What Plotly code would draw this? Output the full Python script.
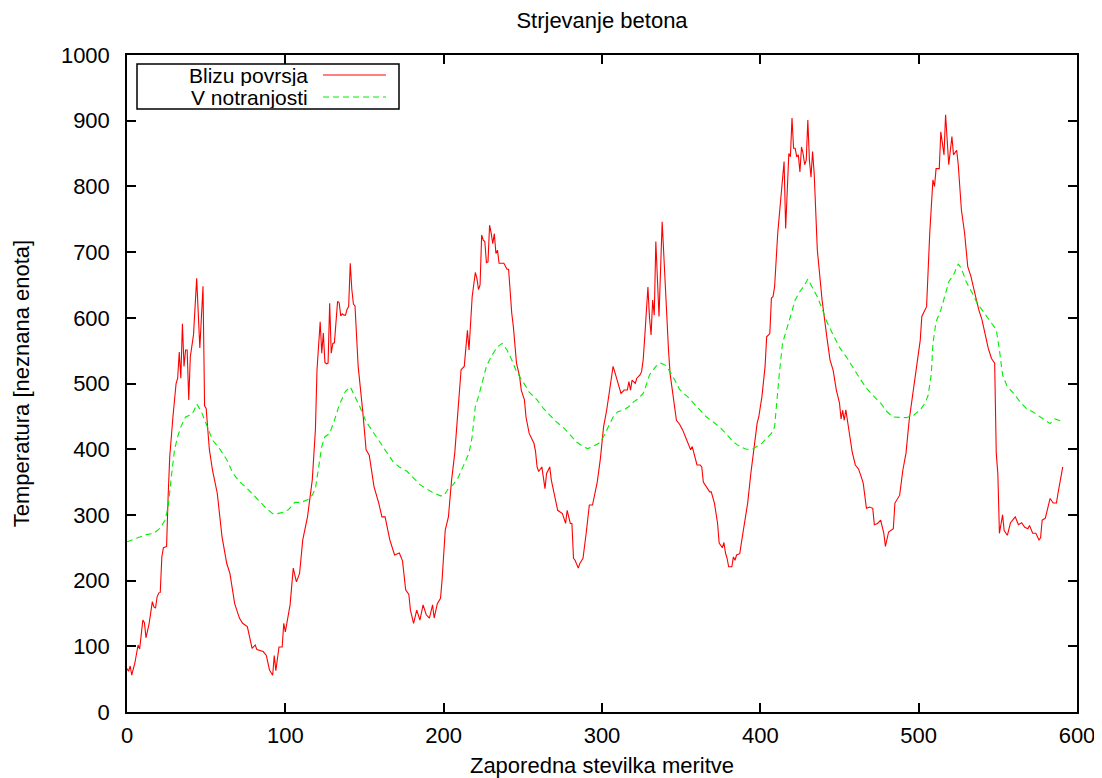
import plotly.graph_objects as go

title_text = "Strjevanje betona"
x_title = "Zaporedna stevilka meritve"
y_title = "Temperatura [neznana enota]"
series_names = ["Blizu povrsja", "V notranjosti"]

# Red series: "Blizu povrsja" (measurement index, value)
red_x = [0, 1, 2, 3, 5, 7, 8, 10, 11, 12, 14, 16, 17, 18, 19, 20, 21, 22, 23, 25,
         26, 27, 29, 31, 32, 33, 34, 35, 36, 37, 38, 39, 40, 42, 44, 46, 48, 49, 50, 52,
         54, 57, 60, 63, 65, 68, 71, 73, 76, 79, 81, 82, 86, 88, 90, 92, 93, 94, 96, 98,
         99, 100, 103, 105, 107, 109, 111, 114, 117, 119, 120, 122, 123, 124, 125, 126, 127, 128, 129, 130,
         131, 132, 133, 134, 135, 136, 137, 138, 139, 140, 141, 142, 143, 144, 146, 149, 151, 153, 156, 159,
         161, 163, 166, 169, 172, 174, 176, 178, 179, 181, 183, 185, 187, 189, 191, 193, 194, 196, 198, 199,
         201, 203, 205, 207, 209, 211, 213, 214, 215, 216, 217, 218, 220, 221, 222, 223, 224, 225, 226, 227,
         228, 229, 230, 231, 232, 233, 234, 235, 236, 238, 240, 241, 243, 244, 246, 248, 249, 251, 252, 254,
         257, 258, 259, 260, 262, 264, 265, 267, 268, 270, 272, 275, 277, 278, 280, 281, 282, 283, 285, 286,
         288, 290, 292, 294, 296, 297, 299, 300, 301, 303, 305, 307, 308, 310, 312, 314, 316, 317, 318, 319,
         321, 322, 324, 325, 326, 327, 329, 330, 331, 332, 333, 334, 336, 338, 340, 342, 343, 345, 347, 349,
         351, 353, 356, 357, 358, 360, 362, 363, 364, 366, 368, 369, 371, 373, 374, 376, 377, 378, 379, 380,
         382, 383, 384, 385, 387, 388, 390, 392, 394, 397, 398, 399, 401, 403, 404, 406, 407, 408, 409, 411,
         413, 415, 416, 417, 418, 419, 420, 421, 422, 423, 424, 425, 426, 427, 428, 429, 430, 431, 432, 433,
         434, 436, 439, 442, 444, 446, 448, 450, 451, 452, 453, 454, 456, 458, 460, 462, 464, 465, 467, 469,
         471, 472, 474, 476, 478, 479, 481, 484, 485, 488, 490, 492, 494, 497, 499, 501, 502, 505, 506, 507,
         509, 510, 511, 513, 514, 516, 517, 519, 521, 522, 524, 525, 527, 529, 531, 533, 536, 538, 540, 542,
         544, 546, 548, 549, 550, 551, 553, 554, 556, 558, 561, 563, 565, 567, 569, 570, 572, 574, 576, 577,
         578, 580, 583, 585, 587, 588, 589, 591]
red_y = [66, 62, 70, 56, 75, 102, 96, 140, 136, 113, 135, 168, 160, 158, 175, 181, 182, 236, 250, 252,
         330, 389, 449, 500, 508, 548, 508, 591, 526, 551, 551, 475, 541, 574, 660, 554, 648, 466, 462, 400,
         368, 333, 267, 226, 211, 165, 143, 135, 130, 97, 102, 95, 92, 86, 64, 56, 86, 63, 99, 99,
         135, 122, 163, 219, 198, 211, 262, 297, 353, 430, 521, 594, 546, 577, 532, 530, 531, 622, 546, 561,
         562, 592, 625, 623, 603, 606, 604, 604, 613, 617, 683, 643, 621, 618, 526, 455, 399, 391, 343, 318,
         297, 297, 262, 239, 242, 230, 186, 179, 155, 135, 155, 140, 163, 148, 143, 163, 143, 165, 173, 201,
         277, 297, 353, 394, 455, 521, 526, 551, 581, 551, 597, 632, 669, 660, 643, 650, 726, 718, 716, 684,
         685, 741, 729, 713, 728, 698, 703, 683, 683, 683, 674, 674, 607, 587, 531, 510, 490, 475, 449, 424,
         409, 397, 373, 366, 373, 340, 363, 373, 353, 328, 307, 302, 287, 307, 287, 287, 234, 231, 219, 226,
         234, 272, 315, 315, 338, 350, 386, 414, 434, 460, 495, 526, 518, 503, 485, 490, 490, 503, 490, 505,
         500, 508, 513, 518, 536, 571, 647, 600, 574, 627, 604, 716, 602, 746, 637, 551, 515, 475, 444, 438,
         429, 417, 399, 404, 395, 376, 376, 373, 350, 343, 335, 335, 318, 287, 257, 250, 258, 242, 234, 221,
         221, 236, 231, 239, 241, 257, 287, 318, 363, 424, 440, 449, 480, 526, 571, 576, 630, 632, 647, 729,
         789, 838, 736, 790, 850, 845, 904, 858, 858, 845, 848, 822, 860, 850, 833, 840, 901, 840, 814, 853,
         820, 703, 627, 571, 536, 520, 490, 470, 446, 459, 444, 460, 429, 396, 376, 370, 356, 348, 310, 312,
         310, 285, 287, 292, 272, 252, 274, 279, 318, 330, 368, 394, 444, 495, 531, 566, 602, 617, 673, 729,
         810, 800, 827, 827, 883, 848, 909, 833, 876, 848, 855, 833, 764, 729, 678, 663, 632, 612, 597, 576,
         553, 538, 531, 394, 363, 272, 300, 276, 269, 288, 297, 285, 288, 281, 279, 284, 272, 272, 262, 265,
         292, 295, 325, 318, 318, 333, 348, 373]

# Green series: "V notranjosti"
green_x = [0, 6, 12, 17, 21, 24, 26, 28, 30, 32, 34, 37, 40, 42, 44, 47, 50, 54, 59, 63,
           67, 71, 76, 80, 84, 88, 92, 95, 99, 102, 106, 110, 114, 117, 119, 121, 123, 125, 128, 131,
           134, 138, 141, 144, 147, 151, 156, 160, 164, 168, 172, 177, 181, 185, 189, 193, 198, 200, 203, 206,
           209, 212, 216, 218, 220, 222, 225, 227, 230, 234, 237, 240, 243, 246, 250, 254, 259, 263, 267, 271,
           276, 280, 284, 288, 291, 294, 298, 301, 304, 307, 310, 314, 317, 320, 323, 326, 328, 330, 334, 337,
           340, 343, 346, 349, 354, 358, 362, 366, 370, 375, 379, 383, 387, 391, 395, 398, 401, 404, 407, 409,
           410, 412, 414, 416, 419, 422, 425, 428, 430, 432, 436, 439, 442, 446, 450, 455, 459, 463, 467, 471,
           476, 480, 484, 488, 492, 497, 501, 504, 506, 508, 509, 511, 514, 517, 519, 522, 525, 527, 530, 534,
           537, 540, 543, 546, 549, 551, 553, 556, 560, 564, 568, 572, 577, 580, 583, 586, 589, 591]
green_y = [259, 264, 270, 272, 280, 292, 312, 358, 399, 419, 434, 449, 452, 457, 469, 457, 439, 414, 399, 384,
           363, 351, 340, 330, 320, 310, 302, 302, 304, 308, 319, 319, 323, 330, 340, 373, 404, 419, 424, 444,
           467, 488, 495, 480, 465, 442, 424, 409, 394, 381, 373, 366, 356, 346, 340, 334, 329, 329, 340, 346,
           356, 373, 394, 419, 465, 480, 510, 526, 541, 556, 561, 551, 536, 518, 503, 487, 475, 462, 452, 442,
           432, 422, 411, 404, 401, 404, 409, 419, 434, 449, 457, 460, 465, 472, 477, 485, 498, 513, 526, 531,
           528, 518, 505, 491, 480, 470, 460, 449, 442, 432, 422, 411, 404, 400, 400, 404, 409, 417, 424, 434,
           465, 515, 561, 576, 602, 627, 640, 650, 659, 650, 632, 614, 594, 574, 555, 538, 522, 507, 493, 482,
           470, 457, 449, 448, 448, 452, 460, 470, 482, 515, 561, 594, 612, 637, 655, 665, 682, 675, 655, 637,
           622, 612, 602, 592, 582, 551, 513, 495, 485, 472, 462, 457, 449, 444, 439, 446, 444, 442]

x_ticks = [0, 100, 200, 300, 400, 500, 600]
y_ticks = [0, 100, 200, 300, 400, 500, 600, 700, 800, 900, 1000]

FONT = "Liberation Sans, Arial, Helvetica, sans-serif"
FS = 22
RED = "#ff0000"
GREEN = "#00ee00"

# The page body adds an 8px margin, so the figure is sized to the remaining viewport
W, H = 1094, 770
L, R, T, B = 119, 25, 47, 66
PW, PH = W - L - R, H - T - B

fig = go.Figure()
fig.add_trace(go.Scatter(x=red_x, y=red_y, mode="lines", name=series_names[0],
                         line=dict(color=RED, width=1.1)))
fig.add_trace(go.Scatter(x=green_x, y=green_y, mode="lines", name=series_names[1],
                         line=dict(color=GREEN, width=1.1, dash="6px,4px")))

axis_common = dict(
    showgrid=False, zeroline=False, showline=True, linecolor="black", linewidth=1.5,
    mirror="ticks", ticks="inside", ticklen=9, tickwidth=1.5, tickcolor="black",
    tickfont=dict(family=FONT, size=FS, color="black"), automargin=False,
)

fig.update_xaxes(range=[0, 600], tickvals=x_ticks, ticktext=[str(v) for v in x_ticks],
                 title=dict(text=x_title, font=dict(family=FONT, size=FS, color="black"), standoff=11),
                 ticklabelstandoff=3, **axis_common)
fig.update_yaxes(range=[0, 1000], tickvals=y_ticks, ticktext=[str(v) for v in y_ticks],
                 title=dict(text=y_title, font=dict(family=FONT, size=FS, color="black"), standoff=25),
                 ticklabelstandoff=11, **axis_common)

# gnuplot-style key: right-aligned labels followed by line samples, in a framed box
# (positions given in screen pixels of the reference, converted to paper fractions)
def px_x(p):
    return (p - 8 - L) / PW

def px_y(p):
    return (H - B + 8 - p) / PH

shapes = [
    dict(type="rect", xref="paper", yref="paper", x0=px_x(137), x1=px_x(399), y0=px_y(109), y1=px_y(64),
         line=dict(color="black", width=1.5), fillcolor="white", layer="above"),
    dict(type="line", xref="paper", yref="paper", x0=px_x(323), x1=px_x(386), y0=px_y(75), y1=px_y(75),
         line=dict(color=RED, width=1.1), layer="above"),
    dict(type="line", xref="paper", yref="paper", x0=px_x(323), x1=px_x(386), y0=px_y(97), y1=px_y(97),
         line=dict(color=GREEN, width=1.1, dash="6px,4px"), layer="above"),
]
annotations = [
    dict(text=series_names[0], xref="paper", yref="paper", x=px_x(309), y=px_y(75),
         xanchor="right", yanchor="middle", showarrow=False, height=21, borderpad=0,
         font=dict(family=FONT, size=21, color="black")),
    dict(text=series_names[1], xref="paper", yref="paper", x=px_x(309), y=px_y(97),
         xanchor="right", yanchor="middle", showarrow=False, height=21, borderpad=0,
         font=dict(family=FONT, size=21, color="black")),
]

fig.update_layout(
    width=W, height=H,
    margin=dict(l=L, r=R, t=T, b=B),
    paper_bgcolor="white", plot_bgcolor="white",
    showlegend=False,
    title=dict(text=title_text, x=(602 - 8) / W, xanchor="center", y=1 - 12 / H, yanchor="middle",
               font=dict(family=FONT, size=FS, color="black")),
    shapes=shapes, annotations=annotations,
)

fig.write_html("out.html")
